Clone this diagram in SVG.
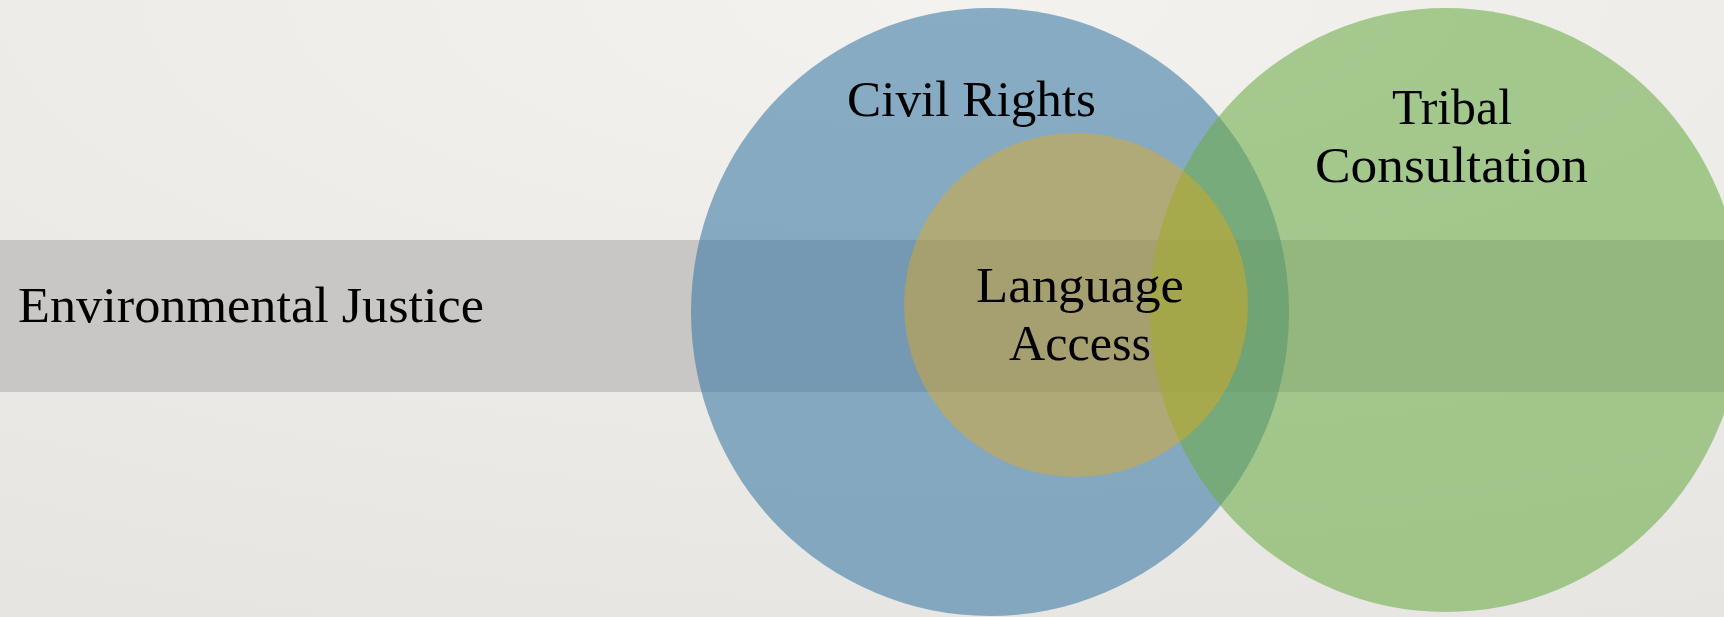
<svg xmlns="http://www.w3.org/2000/svg" width="1724" height="617" viewBox="0 0 1724 617">
  <defs>
    <radialGradient id="bg" cx="0.55" cy="0" r="1.1" fx="0.55" fy="0">
      <stop offset="0" stop-color="#f3f2ee"/>
      <stop offset="1" stop-color="#e6e5e1"/>
    </radialGradient>
    <style>
      .lbl { font-family: "Liberation Serif", "DejaVu Serif", serif; font-size: 50px; fill: #000; }
      .blue { fill: rgb(57,120,164); fill-opacity: 0.58; }
      .green { fill: rgb(109,172,73); fill-opacity: 0.58; }
      .gold { fill: rgb(248,169,0); fill-opacity: 0.375; }
      .band { fill: #c8c7c5; }
    </style>
  </defs>
  <rect x="0" y="0" width="1724" height="617" fill="url(#bg)"/>
  <g id="environmental-justice">
    <rect class="band" x="0" y="240" width="1724" height="152"/>
  </g>
  <g id="civil-rights">
    <ellipse class="blue" cx="990" cy="312" rx="299" ry="304"/>
  </g>
  <g id="tribal-consultation">
    <ellipse class="green" cx="1446" cy="310" rx="296" ry="302"/>
  </g>
  <g id="language-access">
    <circle class="gold" cx="1076" cy="305" r="172"/>
  </g>
  <g id="connectors"/>
  <g id="labels">
    <text class="lbl" x="18" y="322" textLength="466" lengthAdjust="spacingAndGlyphs">Environmental Justice</text>
    <text class="lbl" x="847" y="116" textLength="249" lengthAdjust="spacingAndGlyphs">Civil Rights</text>
    <text class="lbl" x="976" y="302" textLength="208" lengthAdjust="spacingAndGlyphs">Language</text>
    <text class="lbl" x="1009" y="360" textLength="142" lengthAdjust="spacingAndGlyphs">Access</text>
    <text class="lbl" x="1392" y="124" textLength="120" lengthAdjust="spacingAndGlyphs">Tribal</text>
    <text class="lbl" x="1315" y="182" textLength="273" lengthAdjust="spacingAndGlyphs">Consultation</text>
  </g>
</svg>
